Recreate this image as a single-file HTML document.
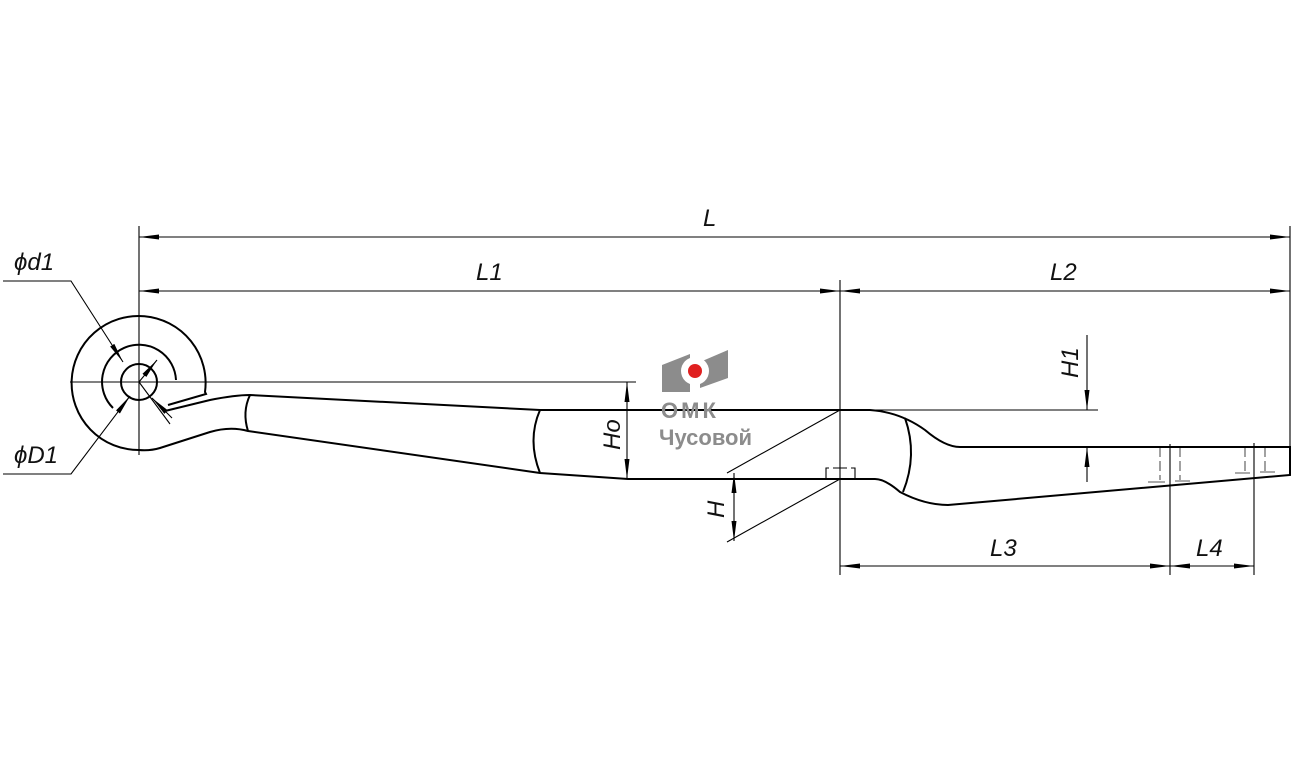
<!DOCTYPE html>
<html><head><meta charset="utf-8"><style>
html,body{margin:0;padding:0;background:#fff;}
svg{display:block;}
text{font-family:"Liberation Sans","DejaVu Sans",sans-serif;font-style:italic;fill:#111;}
</style></head><body>
<svg width="1297" height="775" viewBox="0 0 1297 775" xmlns="http://www.w3.org/2000/svg">
<defs>
<marker id="a" viewBox="0 0 20 6" refX="20" refY="3" markerWidth="20" markerHeight="6" orient="auto-start-reverse" markerUnits="userSpaceOnUse"><path d="M0,0.5 L20,3 L0,5.5 Z" fill="#000"/></marker>
</defs>
<g stroke="#000" fill="none">
<g stroke-width="1.1">
<line x1="139" y1="226" x2="139" y2="455"/>
<line x1="840" y1="280" x2="840" y2="575"/>
<line x1="1290" y1="226" x2="1290" y2="447"/>
<line x1="70" y1="382" x2="636" y2="382"/>
<line x1="840" y1="410" x2="1098" y2="410"/>
<line x1="1170" y1="444" x2="1170" y2="575"/>
<line x1="1254" y1="443" x2="1254" y2="575"/>
<line x1="727" y1="473" x2="840" y2="410"/>
<line x1="727" y1="542" x2="840" y2="479"/>
<line x1="139" y1="237" x2="1290" y2="237" marker-start="url(#a)" marker-end="url(#a)"/>
<line x1="139" y1="291" x2="840" y2="291" marker-start="url(#a)" marker-end="url(#a)"/>
<line x1="840" y1="291" x2="1290" y2="291" marker-start="url(#a)" marker-end="url(#a)"/>
<line x1="840" y1="566" x2="1170" y2="566" marker-start="url(#a)" marker-end="url(#a)"/>
<line x1="1170" y1="566" x2="1254" y2="566" marker-start="url(#a)" marker-end="url(#a)"/>
<line x1="627" y1="382" x2="627" y2="479" marker-start="url(#a)" marker-end="url(#a)"/>
<line x1="734" y1="473" x2="734" y2="541" marker-start="url(#a)" marker-end="url(#a)"/>
<line x1="1087" y1="335" x2="1087" y2="410" marker-end="url(#a)"/>
<line x1="1087" y1="482" x2="1087" y2="447" marker-end="url(#a)"/>
<polyline points="3,281 71,281 123,362" marker-end="url(#a)"/>
<polyline points="3,474 71,474 130,396" marker-end="url(#a)"/>
<line x1="139" y1="382" x2="170" y2="424"/>
<line x1="139" y1="382" x2="157" y2="360" marker-end="url(#a)"/>
<line x1="172" y1="418" x2="152" y2="398" marker-end="url(#a)"/>
<path d="M826,479 V468 H855 V479" stroke-dasharray="14,4"/>
<path d="M1160,447 V480 M1180,447 V480 M1245,447 V475 M1265,447 V475" stroke-dasharray="10,4" stroke="#555"/>
<path d="M1148,482 H1165 M1175,481 H1190 M1235,473 H1250 M1260,472 H1275" stroke="#555"/>
</g>
<g stroke-width="2">
<circle cx="139" cy="382" r="18"/>
<path d="M113,408 A37,37 0 1 1 176,380"/>
<path d="M139,450 A67,67 0 1 1 205,392 L206,394 L168,405"/>
<path d="M165,411 L210,400 Q235,395 250,395 L540,410 L870,410 Q900,412 925,430 Q945,447 960,447 L1290,447 L1290,475 L948,505 Q925,505 900,492 Q885,479 875,479 L628,479 L540,473 L248,431 Q230,426 210,432 L160,448 Q150,451 139,450"/>
<path d="M250,395 Q242,412 248,431"/>
<path d="M540,410 Q527,440 540,473"/>
<path d="M905,418 Q918,455 903,492"/>
</g>
</g>
<g>
<polygon points="662,365 690,354 690,392 662,392" fill="#8c8c8c"/>
<polygon points="700,362 728,350 728,378 700,388" fill="#8c8c8c"/>
<circle cx="695" cy="371" r="14" fill="#fff"/>
<circle cx="695" cy="371" r="7" fill="#e02020"/>
<text x="661" y="418" font-size="22" font-weight="bold" style="fill:#8c8c8c;font-style:normal;letter-spacing:3px">ОМК</text>
<text x="659" y="445" font-size="22" font-weight="bold" style="fill:#8c8c8c;font-style:normal">Чусовой</text>
</g>
<g font-size="24">
<text x="703" y="226">L</text>
<text x="476" y="280">L1</text>
<text x="1050" y="280">L2</text>
<text x="990" y="556">L3</text>
<text x="1196" y="556">L4</text>
<text x="14" y="270">ϕd1</text>
<text x="14" y="463">ϕD1</text>
<text transform="translate(620,450) rotate(-90)">Ho</text>
<text transform="translate(724,518) rotate(-90)">H</text>
<text transform="translate(1078,378) rotate(-90)">H1</text>
</g>
</svg>
</body></html>
